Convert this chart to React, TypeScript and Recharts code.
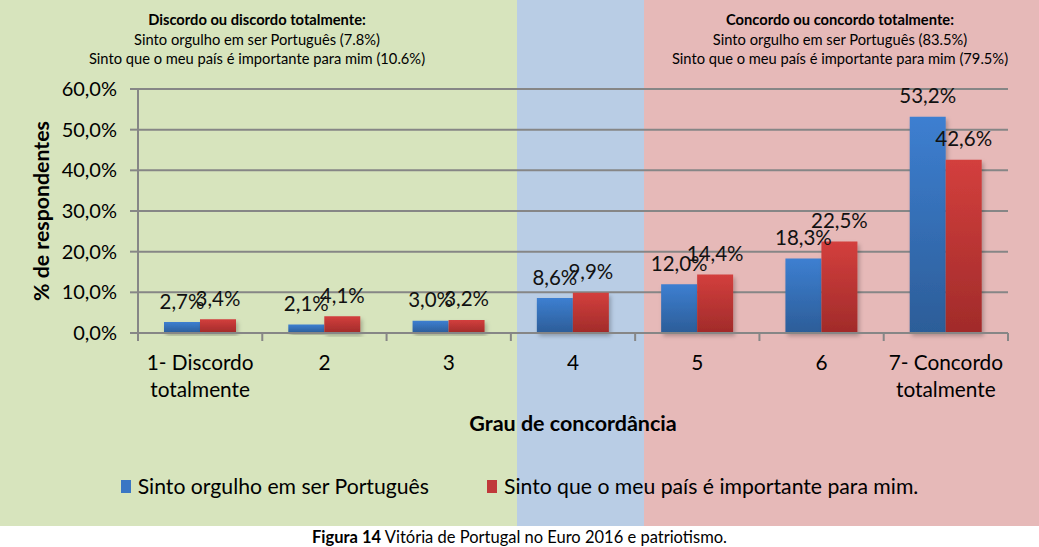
// Grouped bar chart: agreement level vs. two patriotism statements, with coloured bands
import { BarChart, Bar, XAxis, YAxis, CartesianGrid, Legend, LabelList } from "recharts";

const categoryLines = [
  ["1- Discordo", "totalmente"],
  ["2"],
  ["3"],
  ["4"],
  ["5"],
  ["6"],
  ["7- Concordo", "totalmente"],
];
const orgulho = [2.7, 2.1, 3.0, 8.6, 12.0, 18.3, 53.2];
const importante = [3.4, 4.1, 3.2, 9.9, 14.4, 22.5, 42.6];
const yTicks = [0, 10, 20, 30, 40, 50, 60];

const seriesNames = ["Sinto orgulho em ser Português", "Sinto que o meu país é importante para mim."];

const data = categoryLines.map((lines, i) => ({
  name: lines.join(" "),
  orgulho: orgulho[i],
  importante: importante[i],
}));

const FONT = "Lato, 'Open Sans', sans-serif";
const GRID = "#868686";

const pct = (v: number) => v.toFixed(1).replace(".", ",") + "%";

function CategoryTick(props: any) {
  const { x, y, payload, index } = props;
  const half = payload?.offset ?? 62;
  const lines = categoryLines[index] ?? [String(payload.value)];
  return (
    <g>
      <line x1={x - half} x2={x - half} y1={y} y2={y + 8} stroke={GRID} strokeWidth={2} />
      {index === categoryLines.length - 1 && (
        <line x1={x + half} x2={x + half} y1={y} y2={y + 8} stroke={GRID} strokeWidth={2} />
      )}
      {lines.map((l, k) => (
        <text key={k} x={x} y={y + 37 + k * 27} textAnchor="middle" fontSize={20.8} fill="#000" fontFamily={FONT}>
          {l}
        </text>
      ))}
    </g>
  );
}

function LegendContent() {
  const colors = ["#3a76c4", "#c0393a"];
  return (
    <div style={{ display: "flex", justifyContent: "center", fontFamily: FONT, fontSize: 21.2, color: "#000" }}>
      {seriesNames.map((n, i) => (
        <div key={n} style={{ display: "flex", alignItems: "center", marginRight: i === 0 ? 58 : 0 }}>
          <span style={{ width: 10, height: 13, background: colors[i], marginRight: 7, display: "inline-block" }} />
          <span>{n}</span>
        </div>
      ))}
    </div>
  );
}

const noteStyle: React.CSSProperties = {
  position: "absolute",
  top: 10,
  width: 460,
  textAlign: "center",
  fontFamily: FONT,
  fontSize: 14.7,
  lineHeight: "19.5px",
  color: "#000",
};

export default function App() {
  return (
    <div style={{ position: "absolute", left: 0, top: 0, width: 1039, height: 547, background: "#fff", overflow: "hidden" }}>
      <div style={{ position: "absolute", left: 0, top: 0, width: 517, height: 526, background: "#d7e4bd" }} />
      <div style={{ position: "absolute", left: 517, top: 0, width: 127, height: 526, background: "#b9cde5" }} />
      <div style={{ position: "absolute", left: 644, top: 0, width: 395, height: 526, background: "#e6b9b8" }} />

      <div style={{ ...noteStyle, left: 27 }}>
        <div style={{ fontWeight: 700 }}>Discordo ou discordo totalmente:</div>
        <div>Sinto orgulho em ser Português (7.8%)</div>
        <div>Sinto que o meu país é importante para mim (10.6%)</div>
      </div>
      <div style={{ ...noteStyle, left: 610 }}>
        <div style={{ fontWeight: 700 }}>Concordo ou concordo totalmente:</div>
        <div>Sinto orgulho em ser Português (83.5%)</div>
        <div>Sinto que o meu país é importante para mim (79.5%)</div>
      </div>

      <div style={{ position: "absolute", left: 0, top: 0 }}>
        <BarChart
          width={1039}
          height={547}
          data={data}
          margin={{ top: 89, right: 31, left: 38, bottom: 114 }}
          barGap={0}
          barSize={36}
        >
          <defs>
            <linearGradient id="gBlue" x1="0" y1="0" x2="0" y2="1">
              <stop offset="0%" stopColor="#3d7fd1" />
              <stop offset="100%" stopColor="#2c5d98" />
            </linearGradient>
            <linearGradient id="gRed" x1="0" y1="0" x2="0" y2="1">
              <stop offset="0%" stopColor="#d33f3d" />
              <stop offset="100%" stopColor="#a12b2a" />
            </linearGradient>
            <filter id="shadow" x="-20%" y="-20%" width="140%" height="140%">
              <feDropShadow dx="2" dy="3" stdDeviation="2" floodColor="#000" floodOpacity="0.25" />
            </filter>
          </defs>
          <CartesianGrid vertical={false} stroke={GRID} strokeWidth={2} />
          <XAxis
            dataKey="name"
            interval={0}
            height={100}
            axisLine={{ stroke: GRID, strokeWidth: 2 }}
            tickLine={false}
            tickSize={0}
            tickMargin={0}
            tick={<CategoryTick />}
            label={{
              value: "Grau de concordância",
              position: "insideBottom",
              offset: 2,
              fontSize: 21.5,
              fontWeight: 700,
              fill: "#000",
              fontFamily: FONT,
            }}
          />
          <YAxis
            width={100}
            domain={[0, 60]}
            ticks={yTicks}
            tickFormatter={pct}
            axisLine={{ stroke: GRID, strokeWidth: 2 }}
            tickLine={{ stroke: GRID, strokeWidth: 2 }}
            tickSize={8}
            tickMargin={13}
            tick={{ fontSize: 20, fill: "#000", fontFamily: FONT }}
            label={{
              content: () => (
                <text
                  x={41}
                  y={211}
                  transform="rotate(-90 41 211)"
                  textAnchor="middle"
                  dominantBaseline="central"
                  fontSize={21.3}
                  fontWeight={700}
                  fill="#000"
                  fontFamily={FONT}
                >
                  % de respondentes
                </text>
              ),
            }}
          />
          <Legend
            verticalAlign="middle"
            align="center"
            content={<LegendContent />}
            wrapperStyle={{ top: 473, left: 0, width: 1039 }}
          />
          <Bar dataKey="orgulho" name={seriesNames[0]} fill="url(#gBlue)" filter="url(#shadow)" isAnimationActive={false}>
            <LabelList dataKey="orgulho" position="top" offset={13.5} formatter={(v: any) => pct(Number(v))} fontSize={20.5} fill="#111" fontFamily={FONT} />
          </Bar>
          <Bar dataKey="importante" name={seriesNames[1]} fill="url(#gRed)" filter="url(#shadow)" isAnimationActive={false}>
            <LabelList dataKey="importante" position="top" offset={13.5} formatter={(v: any) => pct(Number(v))} fontSize={20.5} fill="#111" fontFamily={FONT} />
          </Bar>
        </BarChart>
      </div>

      <div
        style={{
          position: "absolute",
          top: 529,
          left: 0,
          width: 1039,
          textAlign: "center",
          fontFamily: FONT,
          fontSize: 16.5,
          lineHeight: "17px",
          color: "#000",
        }}
      >
        <b>Figura 14</b> Vitória de Portugal no Euro 2016 e patriotismo.
      </div>
    </div>
  );
}
